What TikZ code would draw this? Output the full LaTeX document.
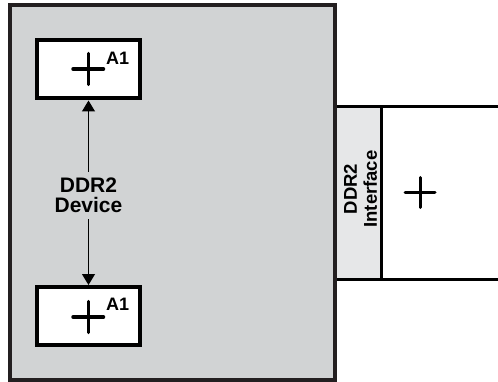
\documentclass[tikz,border=0pt]{standalone}
\usepackage{fontspec}
\setmainfont{Liberation Sans}
\usetikzlibrary{arrows.meta}
\definecolor{devgray}{HTML}{D1D3D4}
\definecolor{ifcgray}{HTML}{E6E7E8}
\definecolor{edge}{HTML}{231F20}
\begin{document}
\begin{tikzpicture}[x=1pt,y=-1pt,
  devbox/.style={draw=edge,fill=devgray,line width=4pt,minimum width=325pt,minimum height=374.5pt,inner sep=0pt},
  chipbox/.style={draw=black,fill=white,line width=4pt,minimum width=103pt,minimum height=58pt,inner sep=0pt},
  ifcstrip/.style={fill=ifcgray,minimum width=46.5pt,minimum height=172.5pt,inner sep=0pt},
  hostbox/.style={fill=white,minimum width=116.5pt,minimum height=172.5pt,inner sep=0pt},
  edgeline/.style={draw=black,line width=3pt},
  crossmark/.style={line width=3.5pt,line cap=round},
  biglabel/.style={font=\bfseries\fontsize{21}{20}\selectfont,align=center,inner xsep=2pt,inner ysep=6pt},
  pinlabel/.style={font=\bfseries\fontsize{18}{18}\selectfont,inner sep=0pt,anchor=base west},
  arr/.style={line width=1.2pt,-{Triangle[width=13pt,length=11pt]}}
]
\useasboundingbox (0,0) rectangle (498,382);
\fill[white] (0,0) rectangle (498,382);
% interface strip and host box
\node[ifcstrip] (ifc) at (358.25,192.75) {};
\node[hostbox] (host) at (439.75,192.75) {};
\node[font=\bfseries\fontsize{18.5}{20}\selectfont,align=center,rotate=90,inner sep=0pt] (ifctext) at (360.5,189) {DDR2\\Interface};
\draw[edgeline] (ifc.north west) -- (host.north east);
\draw[edgeline] (ifc.south west) -- (host.south east);
\draw[edgeline] (ifc.north east) -- (ifc.south east);
\coordinate (hc) at (420,192.5);
\draw[crossmark,line width=3pt] ([xshift=-15pt]hc) -- ([xshift=15pt]hc);
\draw[crossmark,line width=3pt] ([yshift=-15pt]hc) -- ([yshift=15pt]hc);
% device box
\node[devbox] (dev) at (172.5,192.75) {};
% chips
\node[chipbox] (top) at (88.5,69.5) {};
\node[chipbox] (bot) at (88.5,316) {};
\draw[crossmark] ([xshift=-15.5pt,yshift=0.5pt]top.center) -- ([xshift=15pt,yshift=0.5pt]top.center);
\draw[crossmark] ([yshift=-15pt]top.center) -- ([yshift=16pt]top.center);
\draw[crossmark] ([xshift=-15.5pt,yshift=-1pt]bot.center) -- ([xshift=15pt,yshift=-1pt]bot.center);
\draw[crossmark] ([yshift=-16.5pt]bot.center) -- ([yshift=14.5pt]bot.center);
\node[pinlabel] (topa) at (106,65) {A1};
\node[pinlabel] (bota) at (106,310) {A1};
% label and arrows
\node[biglabel] (devtext) at (88.5,195.5) {DDR2\\Device};
\draw[arr] (devtext.north) -- (top.south);
\draw[arr] (devtext.south) -- (bot.north);
\end{tikzpicture}
\end{document}
